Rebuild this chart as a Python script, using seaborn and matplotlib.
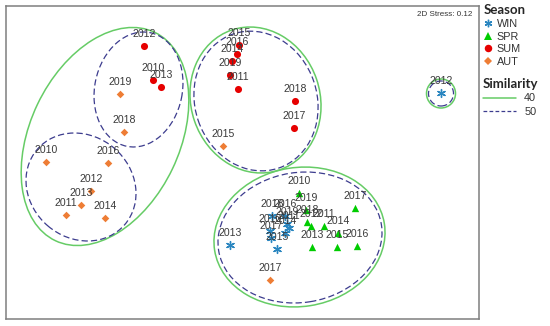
import matplotlib
matplotlib.use("Agg")
import matplotlib.pyplot as plt
from matplotlib.patches import Ellipse
from matplotlib.lines import Line2D
import seaborn as sns
import pandas as pd

# nMDS coordinates
years_win = [2012, 2013, 2016, 2018, 2019, 2011, 2010, 2014, 2017, 2015]
x_win = [2.01, -0.10, 0.45, 0.32, 0.47, 0.49, 0.30, 0.45, 0.31, 0.37]
y_win = [0.67, -0.85, -0.56, -0.56, -0.64, -0.68, -0.71, -0.73, -0.78, -0.89]

years_spr = [2010, 2019, 2018, 2012, 2011, 2014, 2017, 2013, 2015, 2016]
x_spr = [0.59, 0.66, 0.67, 0.71, 0.84, 0.98, 1.15, 0.72, 0.97, 1.17]
y_spr = [-0.33, -0.50, -0.62, -0.66, -0.66, -0.73, -0.48, -0.87, -0.87, -0.86]

years_sum = [2012, 2010, 2013, 2015, 2016, 2014, 2019, 2011, 2018, 2017]
x_sum = [-0.96, -0.87, -0.79, -0.01, -0.03, -0.08, -0.10, -0.02, 0.55, 0.54]
y_sum = [1.14, 0.80, 0.73, 1.15, 1.06, 0.99, 0.85, 0.71, 0.59, 0.32]

years_aut = [2019, 2018, 2015, 2010, 2016, 2012, 2013, 2011, 2014, 2017]
x_aut = [-1.20, -1.16, -0.17, -1.94, -1.32, -1.49, -1.59, -1.74, -1.35, 0.30]
y_aut = [0.66, 0.28, 0.14, -0.02, -0.03, -0.31, -0.45, -0.55, -0.58, -1.20]

seasons = ["WIN", "SPR", "SUM", "AUT"]

# similarity contours (centre x, centre y, semi-major, semi-minor, angle)
sim40 = [(-1.35, 0.235, 1.154, 0.748, 64.5),
         (0.155, 0.60, 0.739, 0.645, -71.2),
         (0.595, -0.77, 0.859, 0.695, 9.0),
         (2.01, 0.665, 0.145, 0.145, 0.0)]
sim50 = [(-1.015, 0.705, 0.58, 0.438, 78.3),
         (-1.59, -0.27, 0.577, 0.511, -40.6),
         (0.16, 0.59, 0.708, 0.61, -71.2),
         (0.60, -0.775, 0.824, 0.65, 9.0),
         (2.01, 0.665, 0.125, 0.125, 0.0)]
stress = 0.12

df = pd.concat([
    pd.DataFrame({"x": x_win, "y": y_win, "year": years_win, "season": "WIN"}),
    pd.DataFrame({"x": x_spr, "y": y_spr, "year": years_spr, "season": "SPR"}),
    pd.DataFrame({"x": x_sum, "y": y_sum, "year": years_sum, "season": "SUM"}),
    pd.DataFrame({"x": x_aut, "y": y_aut, "year": years_aut, "season": "AUT"}),
])

colors = {"WIN": "#2a86c0", "SPR": "#00cc00", "SUM": "#e60000", "AUT": "#ee7d35"}
markers = {"WIN": (6, 2, 0), "SPR": "^", "SUM": "o", "AUT": "D"}
sizes = {"WIN": 32, "SPR": 28, "SUM": 26, "AUT": 15}
green_line = "#66cc66"
navy_dash = "#3c3c8e"

sns.set_style("white")
plt.rcParams["font.family"] = ["Liberation Sans", "DejaVu Sans"]

fig = plt.figure(figsize=(5.5, 3.26), dpi=100)
ax = fig.add_axes([6 / 550, 7 / 326, 473 / 550, 313 / 326])

for cx, cy, a, b, ang in sim40:
    ax.add_patch(Ellipse((cx, cy), 2 * a, 2 * b, angle=ang, fill=False,
                         edgecolor=green_line, lw=1.1, zorder=1))
for cx, cy, a, b, ang in sim50:
    ax.add_patch(Ellipse((cx, cy), 2 * a, 2 * b, angle=ang, fill=False,
                         edgecolor=navy_dash, lw=0.9, ls=(0, (5, 2.5)), zorder=1))

for s in seasons:
    sub = df[df["season"] == s]
    kw = dict(linewidth=1.0) if s == "WIN" else dict(linewidth=0)
    sns.scatterplot(data=sub, x="x", y="y", marker=markers[s], color=colors[s],
                    s=sizes[s], ax=ax, legend=False, zorder=3, **kw)

for _, r in df.iterrows():
    ax.annotate(str(r["year"]), (r["x"], r["y"]), xytext=(0, 8.3),
                textcoords="offset points", ha="center", va="center",
                fontsize=7.6, color="#3a3a3a", zorder=4)

ax.set_xlim(-2.34, 2.39)
ax.set_ylim(-1.59, 1.54)
ax.set_xticks([])
ax.set_yticks([])
ax.set_xlabel("")
ax.set_ylabel("")
for sp in ax.spines.values():
    sp.set_color("#7f7f7f")
    sp.set_linewidth(1.1)

ax.text(0.985, 0.985, f"2D Stress: {stress}", transform=ax.transAxes,
        ha="right", va="top", fontsize=5.8, color="#333333")

season_handles = [Line2D([], [], ls="", marker=markers[s], color=colors[s],
                         markersize=5.4 if s != "AUT" else 4.2, mew=1.0 if s == "WIN" else 0)
                  for s in seasons]
leg1 = fig.legend(season_handles, seasons, loc="upper left",
                  bbox_to_anchor=(483 / 550, 1 - 3 / 326), frameon=False,
                  title="Season", alignment="left", fontsize=7.8,
                  title_fontproperties={"family": "Lato", "weight": "bold", "size": 9.5},
                  handlelength=0.8, handletextpad=0.35, labelspacing=0.25,
                  borderpad=0.1, borderaxespad=0)

sim_handles = [Line2D([], [], color=green_line, lw=1.1),
               Line2D([], [], color=navy_dash, lw=0.9, ls=(0, (3, 1.8)))]
leg2 = fig.legend(sim_handles, ["40", "50"], loc="upper left",
                  bbox_to_anchor=(482 / 550, 1 - 77 / 326), frameon=False,
                  title="Similarity", alignment="left", fontsize=7.8,
                  title_fontproperties={"family": "Lato", "weight": "bold", "size": 9.5},
                  handlelength=3.0, handletextpad=0.8, labelspacing=0.3,
                  borderpad=0.1, borderaxespad=0)
for t in leg1.get_texts() + leg2.get_texts():
    t.set_color("#333333")

fig.savefig("out.png", dpi=100)
